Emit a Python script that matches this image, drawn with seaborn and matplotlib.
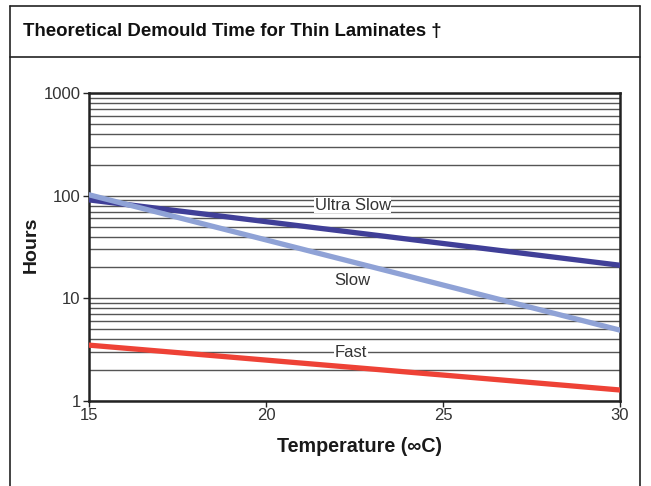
import numpy as np
import pandas as pd
import matplotlib
matplotlib.use('Agg')
import matplotlib.pyplot as plt
import seaborn as sns
from matplotlib.lines import Line2D

# values (hours at 15 and 30 deg C)
temperature = [15, 30]
ultra_slow = [91, 21]
slow = [102, 4.9]
fast = [3.5, 1.28]

series_names = ['Ultra Slow', 'Slow', 'Fast']
series_colors = ['#403f98', '#8fa2d6', '#ee4236']

df = pd.DataFrame({
    'Temperature': temperature * 3,
    'Hours': ultra_slow + slow + fast,
    'Series': [s for s in series_names for _ in temperature],
})

sns.set_style('white')
plt.rcParams['font.family'] = ['Liberation Sans', 'DejaVu Sans']

fig = plt.figure(figsize=(6.51, 4.86), dpi=100)
ax = fig.add_axes([89 / 651, 1 - 401 / 486, (620 - 89) / 651, (401 - 93) / 486])

ax.set_yscale('log')
ax.set_ylim(1, 1000)
ax.set_xlim(15, 30)
ax.yaxis.grid(True, which='both', color='#555555', linewidth=1.0)
ax.xaxis.grid(False)
ax.set_axisbelow(True)

sns.lineplot(data=df, x='Temperature', y='Hours', hue='Series',
             palette=dict(zip(series_names, series_colors)),
             linewidth=3.8, legend=False, ax=ax, zorder=3)

ax.set_yticks([1, 10, 100, 1000])
ax.set_yticklabels(['1', '10', '100', '1000'])
ax.yaxis.set_minor_formatter(matplotlib.ticker.NullFormatter())
ax.set_xticks([15, 20, 25, 30])
ax.tick_params(axis='y', which='major', direction='out', length=4, width=1,
               labelsize=12, left=True, pad=2)
ax.tick_params(axis='y', which='minor', left=False)
ax.tick_params(axis='x', direction='out', length=4, width=1,
               labelsize=12, bottom=True, pad=1)
for lab in ax.get_xticklabels() + ax.get_yticklabels():
    lab.set_color('#333333')

for sp in ax.spines.values():
    sp.set_color('#222222')
    sp.set_linewidth(1.8)

ax.set_xlabel('Temperature (\u221eC)', fontsize=14.2, fontweight='bold', color='#1a1a1a')
ax.set_ylabel('Hours', fontsize=14, fontweight='bold', color='#1a1a1a')
ax.xaxis.label.set_va('center')
ax.yaxis.label.set_va('center')
ax.xaxis.set_label_coords(0.51, -0.147)
ax.yaxis.set_label_coords(-0.109, 0.508)

# series labels on the lines
box = dict(facecolor='white', edgecolor='none', pad=0.5)
ax.text(22.45, 81, 'Ultra Slow', fontsize=12, color='#333333',
        ha='center', va='center', bbox=box, zorder=4)
ax.text(22.45, 14.8, 'Slow', fontsize=12, color='#333333',
        ha='center', va='center', zorder=4)
ax.text(22.4, 3.0, 'Fast', fontsize=12, color='#333333',
        ha='center', va='center', bbox=box, zorder=4)

# outer frame and title box
frame = dict(color='#222222', linewidth=1.2, transform=fig.transFigure)
x0, x1 = 10 / 651, 640 / 651
fig.add_artist(Line2D([x0, x1], [1 - 6 / 486, 1 - 6 / 486], **frame))
fig.add_artist(Line2D([x0, x1], [1 - 57 / 486, 1 - 57 / 486], **frame))
fig.add_artist(Line2D([x0, x0], [0, 1 - 6 / 486], **frame))
fig.add_artist(Line2D([x1, x1], [0, 1 - 6 / 486], **frame))

fig.text(23 / 651, 1 - 31 / 486, 'Theoretical Demould Time for Thin Laminates \u2020',
         fontsize=13.4, fontweight='bold', ha='left', va='center', color='#111111')

fig.savefig('out.png', dpi=100)
